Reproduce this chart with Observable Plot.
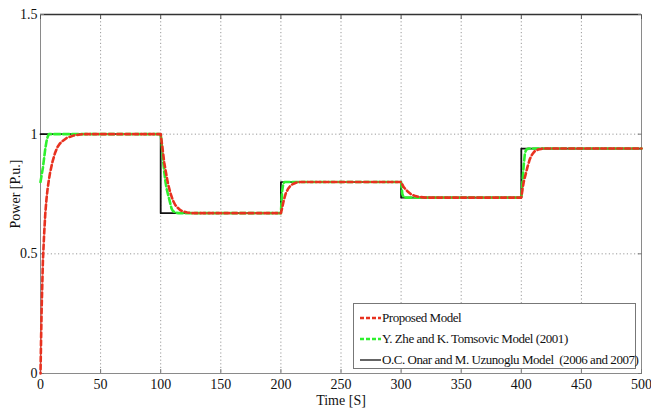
<!DOCTYPE html>
<html>
<head>
<meta charset="utf-8">
<script src="https://cdn.jsdelivr.net/npm/d3@7"></script>
<script src="https://cdn.jsdelivr.net/npm/@observablehq/plot@0.6"></script>
<style>
  html, body { margin: 0; padding: 0; background: #fff; }
  #wrap { position: relative; width: 651px; height: 410px; font-family: "Liberation Serif", "Times New Roman", serif; }
  #chart svg, #chart svg text { font-family: "Liberation Serif", "Times New Roman", serif !important; }
  #legend {
    position: absolute; left: 353px; top: 303px; width: 283px; height: 66px;
    background: #fff; border: 1px solid #777; box-sizing: border-box;
    padding-top: 3px; font-size: 13px; color: #111;
  }
  .row { display: flex; align-items: center; height: 21px; white-space: pre; letter-spacing: -0.45px; }
  .row svg { flex: 0 0 auto; margin-left: 6px; margin-right: 1px; }
</style>
</head>
<body>
<div id="wrap">
  <div id="chart"></div>
  <div id="legend"></div>
</div>
<script>
// Axis ticks
const xTicks = [0, 50, 100, 150, 200, 250, 300, 350, 400, 450, 500];
const yTicks = [0, 0.5, 1, 1.5];

// Series names
const seriesNames = [
  "Proposed Model",
  "Y. Zhe and K. Tomsovic Model (2001)",
  "O.C. Onar and M. Uzunoglu Model  (2006 and 2007)"
];

// Proposed model response (time in s, power in p.u.)
const redT = [0, 0.5, 1, 2, 3, 4, 5, 6, 7, 8, 10, 12, 14, 16, 18, 22, 28, 35,
  100, 101, 102, 103, 104, 106, 108, 110, 112, 114, 116, 118, 122, 126,
  200, 201, 202, 203, 204, 206, 208, 210, 213, 216,
  300, 301, 302, 304, 306, 308, 311, 315, 320,
  400, 401, 402, 403.5, 405, 407, 409, 411, 414, 418,
  500];
const redP = [0, 0.15, 0.28, 0.47, 0.58, 0.67, 0.73, 0.775, 0.81, 0.84, 0.885, 0.92, 0.945, 0.96, 0.97, 0.985, 0.995, 1,
  1, 0.96, 0.92, 0.88, 0.85, 0.795, 0.755, 0.725, 0.705, 0.693, 0.684, 0.678, 0.673, 0.67,
  0.67, 0.69, 0.715, 0.735, 0.752, 0.772, 0.785, 0.792, 0.798, 0.8,
  0.8, 0.79, 0.78, 0.768, 0.758, 0.75, 0.743, 0.738, 0.735,
  0.735, 0.77, 0.8, 0.83, 0.86, 0.895, 0.915, 0.928, 0.936, 0.94,
  0.94];

// Zhe & Tomsovic model response
const greenT = [0, 1, 2, 3, 4, 5, 6, 7,
  100, 101, 102, 103, 104, 105, 106, 107, 108, 109, 110, 112, 115,
  200, 201, 202, 203,
  300, 301, 302, 303,
  400, 401, 402, 403, 404, 406,
  500];
const greenP = [0.8, 0.83, 0.86, 0.9, 0.94, 0.97, 0.99, 1,
  1, 0.95, 0.89, 0.84, 0.8, 0.77, 0.75, 0.73, 0.71, 0.69, 0.68, 0.672, 0.67,
  0.67, 0.76, 0.795, 0.8,
  0.8, 0.75, 0.737, 0.735,
  0.735, 0.8, 0.87, 0.92, 0.935, 0.94,
  0.94];

// Onar & Uzunoglu model: piecewise constant load levels
const blackT = [0, 100, 200, 300, 400, 500];
const blackP = [1, 0.67, 0.8, 0.735, 0.94, 0.94];

const colors = ["#e8311f", "#2ef02e", "#111111"];

const red = redT.map((t, i) => ({t, p: redP[i]}));
const green = greenT.map((t, i) => ({t, p: greenP[i]}));
const black = blackT.map((t, i) => ({t, p: blackP[i]}));

const chart = Plot.plot({
  width: 651,
  height: 410,
  marginLeft: 40,
  marginRight: 10,
  marginTop: 14,
  marginBottom: 37,
  style: {fontFamily: "'Liberation Serif', serif", fontSize: "14px", color: "#111", background: "#fff"},
  x: {domain: [0, 500]},
  y: {domain: [0, 1.5]},
  marks: [
    Plot.gridX(xTicks.slice(1, -1), {stroke: "#9a9a9a", strokeOpacity: 1, strokeDasharray: "1.2,2.4"}),
    Plot.gridY(yTicks.slice(1, -1), {stroke: "#9a9a9a", strokeOpacity: 1, strokeDasharray: "1.2,2.4"}),
    Plot.frame({stroke: "#8a8a8a"}),
    Plot.ruleY([1.5], {stroke: "#333", strokeWidth: 1.5}),
    Plot.axisX(xTicks, {anchor: "top", tickSize: -4, tickFormat: () => "", label: null, stroke: "#555"}),
    Plot.axisX(xTicks, {anchor: "bottom", tickSize: -4, tickPadding: 10, label: "Time [S]", labelAnchor: "center", labelOffset: 31, labelArrow: "none", stroke: "#777"}),
    Plot.axisY(yTicks, {anchor: "left", tickSize: -4, tickPadding: 7, tickFormat: d => String(d), label: "Power [P.u.]", labelAnchor: "center", labelOffset: 30, labelArrow: "none", stroke: "#777"}),
    Plot.axisY(yTicks, {anchor: "right", tickSize: -4, tickFormat: () => "", label: null, stroke: "#777"}),
    Plot.line(black, {x: "t", y: "p", curve: "step-after", stroke: colors[2], strokeWidth: 1.8}),
    Plot.line(green, {x: "t", y: "p", stroke: colors[1], strokeWidth: 2.6, strokeDasharray: "6,3"}),
    Plot.line(red, {x: "t", y: "p", stroke: colors[0], strokeWidth: 2.6, strokeDasharray: "5,3", strokeDashoffset: 4})
  ]
});
document.getElementById("chart").append(chart);

// Legend box drawn over the plot area
const legend = document.getElementById("legend");
seriesNames.forEach((name, i) => {
  const row = document.createElement("div");
  row.className = "row";
  const dash = i < 2 ? 'stroke-dasharray="4,2"' : "";
  const w = i < 2 ? 2.4 : 1.3;
  row.innerHTML = `<svg width="21" height="6"><line x1="0" y1="3" x2="21" y2="3" stroke="${colors[i]}" stroke-width="${w}" ${dash}/></svg><span>${name}</span>`;
  legend.append(row);
});
</script>
</body>
</html>
